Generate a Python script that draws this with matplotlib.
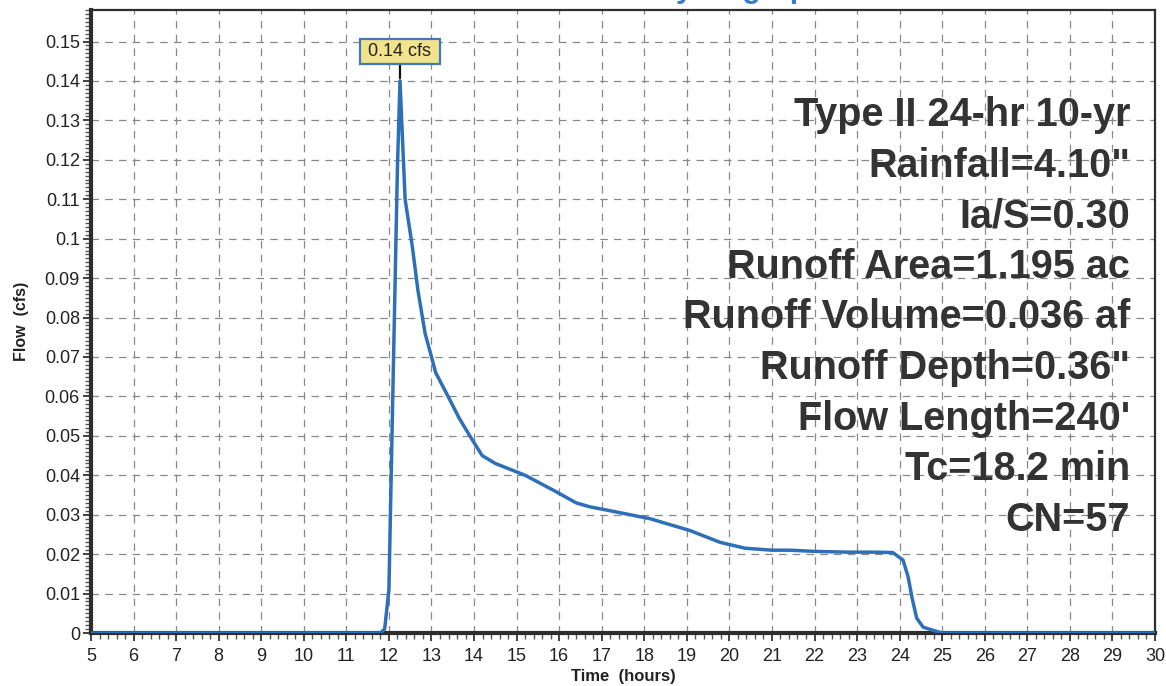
import matplotlib
matplotlib.use("Agg")
import matplotlib.pyplot as plt
from matplotlib.ticker import MultipleLocator, FixedLocator, FuncFormatter

# Runoff hydrograph (hours, cfs)
time_hr = [5.0, 11.0, 11.8, 11.9, 12.0, 12.1, 12.2, 12.26, 12.38, 12.55, 12.68,
           12.85, 13.1, 13.39, 13.65, 13.9, 14.19, 14.5, 14.85, 15.2, 15.9, 16.4, 16.72, 17.2,
           18.13, 19.07, 19.78, 20.37, 21.0, 21.42, 22.0, 22.8, 23.4, 23.84,
           24.08, 24.2, 24.29, 24.4, 24.55, 24.78, 25.0, 30.0]
flow_cfs = [0.0, 0.0, 0.0, 0.001, 0.011, 0.065, 0.118, 0.140, 0.110, 0.098, 0.087,
            0.076, 0.066, 0.060, 0.0545, 0.050, 0.045, 0.043, 0.0415, 0.040, 0.036, 0.033, 0.032, 0.031,
            0.029, 0.026, 0.023, 0.0215, 0.021, 0.021, 0.0207, 0.0205, 0.0205, 0.0204,
            0.0185, 0.0142, 0.009, 0.0038, 0.0015, 0.0007, 0.0, 0.0]

peak_time = 12.26
peak_flow = 0.14
peak_label = "0.14 cfs"

chart_title = "Hydrograph"

summary_lines = [
    "Type II 24-hr 10-yr",
    'Rainfall=4.10"',
    "Ia/S=0.30",
    "Runoff Area=1.195 ac",
    "Runoff Volume=0.036 af",
    'Runoff Depth=0.36"',
    "Flow Length=240'",
    "Tc=18.2 min",
    "CN=57",
]

x_ticks = list(range(5, 31))
y_ticks = [i / 100 for i in range(0, 16)]

plt.rcParams["font.family"] = ["Liberation Sans", "DejaVu Sans"]

W, H = 1166, 686
fig = plt.figure(figsize=(W / 100, H / 100), dpi=100)
ax = fig.add_axes([91 / W, (H - 633) / H, (1155 - 91) / W, (633 - 10) / H])

ax.set_xlim(5, 30)
ax.set_ylim(0, 0.158)

ax.xaxis.set_major_locator(FixedLocator(x_ticks))
ax.xaxis.set_minor_locator(MultipleLocator(0.2))
ax.yaxis.set_major_locator(FixedLocator(y_ticks))
ax.yaxis.set_minor_locator(MultipleLocator(0.001))


def fmt_y(v, pos):
    if abs(v) < 1e-9:
        return "0"
    return ("%.2f" % v).rstrip("0")


ax.yaxis.set_major_formatter(FuncFormatter(fmt_y))

ax.grid(True, which="major", linestyle=(0, (6, 5)), color="#888888", linewidth=0.9)
ax.set_axisbelow(True)

ax.tick_params(axis="both", which="major", direction="out", length=6, width=1.3,
               color="#333333", labelsize=13, labelcolor="#222222")
ax.tick_params(axis="x", which="major", pad=5)
ax.tick_params(axis="y", which="major", pad=2)
ax.tick_params(axis="both", which="minor", direction="out", length=4, width=1.0,
               color="#555555")

for side, lw in (("left", 3.0), ("bottom", 3.0), ("top", 1.6), ("right", 1.6)):
    ax.spines[side].set_linewidth(lw)
    ax.spines[side].set_color("#2e2e2e")

ax.plot(time_hr, flow_cfs, color="#2e70b8", linewidth=2.5, solid_joinstyle="round",
        zorder=3)

ax.set_xlabel("Time  (hours)", fontsize=12, fontweight="bold", color="#222222",
              labelpad=3)
ax.set_ylabel("Flow  (cfs)", fontsize=11.5, fontweight="bold", color="#222222",
              labelpad=11)

# Peak annotation
ax.annotate(" " + peak_label + " ", xy=(peak_time, peak_flow), xytext=(peak_time, 0.1475),
            ha="center", va="center", fontsize=13, color="#222222",
            bbox=dict(boxstyle="square,pad=0.2", fc="#f2e48c", ec="#3f79c0", lw=1.6),
            arrowprops=dict(arrowstyle="-", color="#111111", lw=1.6,
                            shrinkA=0, shrinkB=2),
            zorder=5)

# Chart title sits above the plotting frame, mostly beyond the page edge
fig.text(740 / W, 1 + 3 / H, chart_title, ha="center", va="baseline",
         fontsize=22, fontweight="bold", color="#3a7cc8")

# Storm / watershed summary
top_y = 115
step = 50.6
for i, line in enumerate(summary_lines):
    fig.text(1130 / W, 1 - (top_y + i * step) / H, line, ha="right", va="center",
             fontsize=28.5, fontweight="bold", color="#333333")

fig.savefig("out.png", dpi=100)
